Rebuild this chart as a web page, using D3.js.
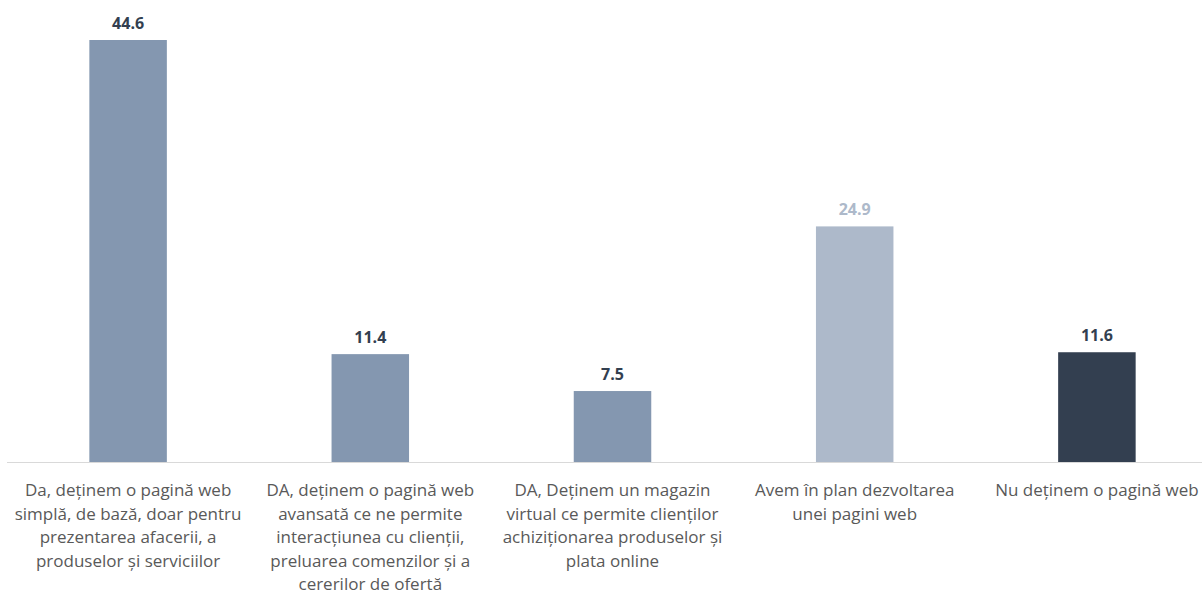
<!DOCTYPE html>
<html lang="ro">
  <head>
    <meta charset="UTF-8" />
    <title>Pagina web</title>
    <script src="https://cdn.jsdelivr.net/npm/d3@7"></script>
    <style>
      body { margin: 0; background: #fff; }
      svg { display: block; font-family: "Open Sans", sans-serif; }
      .cat { fill: #595959; font-size: 17px; }
      .val { font-size: 16px; font-weight: bold; }
    </style>
  </head>
  <body>
    <div id="chart"></div>
    <script>
      var categories = [
        "Da, deținem o pagină web simplă, de bază, doar pentru prezentarea afacerii, a produselor și serviciilor",
        "DA, deținem o pagină web avansată ce ne permite interacțiunea cu clienții, preluarea comenzilor și a cererilor de ofertă",
        "DA, Deținem un magazin virtual ce permite clienților achiziționarea produselor și plata online",
        "Avem în plan dezvoltarea unei pagini web",
        "Nu deținem o pagină web"
      ];
      // wrapped lines as they appear under each bar
      var tickLines = [
        ["Da, deținem o pagină web", "simplă, de bază, doar pentru", "prezentarea afacerii, a", "produselor și serviciilor"],
        ["DA, deținem o pagină web", "avansată ce ne permite", "interacțiunea cu clienții,", "preluarea comenzilor și a", "cererilor de ofertă"],
        ["DA, Deținem un magazin", "virtual ce permite clienților", "achiziționarea produselor și", "plata online"],
        ["Avem în plan dezvoltarea", "unei pagini web"],
        ["Nu deținem o pagină web"]
      ];
      var values = [44.6, 11.4, 7.5, 24.9, 11.6];
      var barColors = ["#8497b0", "#8497b0", "#8497b0", "#adb9ca", "#333f50"];
      var labelColors = ["#333f50", "#333f50", "#333f50", "#adb9ca", "#333f50"];

      var width = 1202, height = 596;
      var baseY = 462;

      var svg = d3.select("#chart").append("svg")
        .attr("width", width)
        .attr("height", height);

      var x = d3.scaleBand()
        .domain(d3.range(categories.length))
        .range([7, 1218])
        .paddingInner(0.68)
        .paddingOuter(0.34);

      var y = d3.scaleLinear()
        .domain([0, 44.6])
        .range([baseY, 40]);

      svg.selectAll("rect.bar")
        .data(values)
        .join("rect")
        .attr("class", "bar")
        .attr("x", function (d, i) { return x(i); })
        .attr("width", x.bandwidth())
        .attr("y", function (d) { return y(d); })
        .attr("height", function (d) { return y(0) - y(d); })
        .attr("fill", function (d, i) { return barColors[i]; });

      // category axis line
      svg.append("line")
        .attr("x1", 7).attr("x2", width)
        .attr("y1", baseY + 0.5).attr("y2", baseY + 0.5)
        .attr("stroke", "#d9d9d9")
        .attr("stroke-width", 1);

      svg.selectAll("text.val")
        .data(values)
        .join("text")
        .attr("class", "val")
        .attr("x", function (d, i) { return x(i) + x.bandwidth() / 2; })
        .attr("y", function (d) { return y(d) - 11; })
        .attr("text-anchor", "middle")
        .attr("fill", function (d, i) { return labelColors[i]; })
        .text(function (d) { return d.toFixed(1); });

      var cat = svg.selectAll("text.cat")
        .data(tickLines)
        .join("text")
        .attr("class", "cat")
        .attr("text-anchor", "middle")
        .attr("transform", function (d, i) {
          return "translate(" + (x(i) + x.bandwidth() / 2) + ",0)";
        });

      cat.selectAll("tspan")
        .data(function (d) { return d; })
        .join("tspan")
        .attr("x", 0)
        .attr("y", function (d, j) { return 496 + j * 23.5; })
        .text(function (d) { return d; });
    </script>
  </body>
</html>
